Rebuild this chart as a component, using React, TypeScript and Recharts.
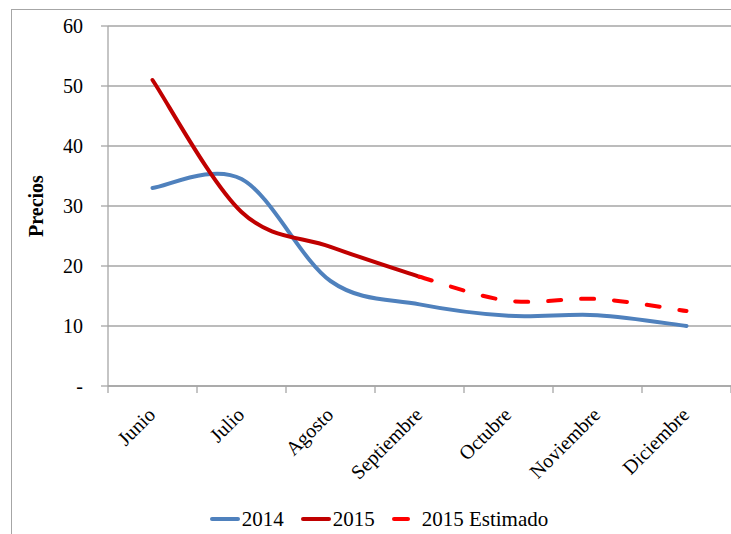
import { LineChart, Line, XAxis, YAxis, CartesianGrid, Legend } from "recharts";

const months = ["Junio", "Julio", "Agosto", "Septiembre", "Octubre", "Noviembre", "Diciembre"];
const precios2014 = [33, 34.5, 17.5, 13.6, 11.7, 11.8, 10];
const precios2015 = [51, 29, 23.2, 18.2, null, null, null];
const estimado2015 = [null, null, null, 18.2, 14.2, 14.5, 12.5];
const yTicks = [0, 10, 20, 30, 40, 50, 60];

const rows = months.map((m, i) => ({
  i,
  month: m,
  a: precios2014[i],
  b: precios2015[i],
  c: estimado2015[i],
}));

// boundaries get a tick mark, centres get the month label
const xTicks: number[] = [];
for (let k = 0; k <= months.length; k++) {
  xTicks.push(k - 0.5);
  if (k < months.length) xTicks.push(k);
}

const FONT = "'Liberation Serif', 'Times New Roman', serif";
const GRID = "#a6a6a6";

// excel-ish smoothed line (catmull-rom through every point)
function smooth(context: any) {
  let pts: [number, number][] = [];
  return {
    areaStart() {},
    areaEnd() {},
    lineStart() {
      pts = [];
    },
    point(x: number, y: number) {
      pts.push([+x, +y]);
    },
    lineEnd() {
      const n = pts.length;
      if (!n) return;
      context.moveTo(pts[0][0], pts[0][1]);
      for (let i = 0; i < n - 1; i++) {
        const p0 = pts[Math.max(i - 1, 0)];
        const p1 = pts[i];
        const p2 = pts[i + 1];
        const p3 = pts[Math.min(i + 2, n - 1)];
        context.bezierCurveTo(
          p1[0] + (p2[0] - p0[0]) / 6,
          p1[1] + (p2[1] - p0[1]) / 6,
          p2[0] - (p3[0] - p1[0]) / 6,
          p2[1] - (p3[1] - p1[1]) / 6,
          p2[0],
          p2[1]
        );
      }
    },
  };
}

function MonthTick(props: any) {
  const { x, y, payload } = props;
  const v = payload.value;
  if (!Number.isInteger(v)) {
    return <line x1={x} x2={x} y1={y} y2={y + 7} stroke={GRID} strokeWidth={1.3} />;
  }
  return (
    <g transform={`translate(${x + 4},${y + 30}) rotate(-45)`}>
      <text textAnchor="end" fill="#000" fontSize={20} fontFamily={FONT}>
        {months[v]}
      </text>
    </g>
  );
}

function YTitle(props: any) {
  const vb = props.viewBox || { y: 26, height: 360 };
  const cy = vb.y + vb.height / 2;
  return (
    <text
      x={36}
      y={cy}
      transform={`rotate(-90 36 ${cy})`}
      textAnchor="middle"
      dominantBaseline="central"
      fontWeight="bold"
      fontSize={20}
      fontFamily={FONT}
      fill="#000"
    >
      Precios
    </text>
  );
}

function LegendBox() {
  const item = (color: string, label: string, dashed?: boolean) => (
    <div style={{ display: "flex", alignItems: "center", marginRight: dashed ? 0 : 17 }}>
      {dashed ? (
        <span style={{ width: 18, height: 4, background: color, borderRadius: 2, margin: "0 12px 0 0" }} />
      ) : (
        <span style={{ width: 30, height: 4, background: color, borderRadius: 2, marginRight: 2 }} />
      )}
      <span>{label}</span>
    </div>
  );
  return (
    <div
      style={{
        height: 30,
        display: "flex",
        justifyContent: "center",
        alignItems: "center",
        fontFamily: FONT,
        fontSize: 21,
        color: "#000",
        paddingLeft: 27,
      }}
    >
      {item("#4f81bd", "2014")}
      {item("#c00000", "2015")}
      {item("#ff0000", "2015 Estimado", true)}
    </div>
  );
}

export default function App() {
  return (
    <div
      style={{
        position: "absolute",
        left: 0,
        top: 0,
        width: 731,
        height: 534,
        overflow: "hidden",
        background: "#fff",
        fontFamily: FONT,
      }}
    >
      <div
        style={{
          position: "absolute",
          left: 11,
          top: 9,
          width: 760,
          height: 560,
          border: "1px solid #a6a6a6",
        }}
      />
      <LineChart
        width={731}
        height={534}
        data={rows}
        margin={{ top: 26, right: 0, bottom: 0, left: 0 }}
        style={{ position: "absolute", left: 0, top: 0 }}
      >
        <CartesianGrid vertical={false} stroke={GRID} strokeWidth={1.3} />
        <XAxis
          dataKey="i"
          type="number"
          domain={[-0.5, 6.5]}
          ticks={xTicks}
          interval={0}
          height={118}
          tickSize={0}
          tickMargin={0}
          tickLine={false}
          axisLine={{ stroke: GRID, strokeWidth: 1.3 }}
          tick={<MonthTick />}
        />
        <YAxis
          width={108}
          domain={[0, 60]}
          ticks={yTicks}
          interval={0}
          tickSize={7}
          tickMargin={18}
          tickLine={{ stroke: GRID, strokeWidth: 1.3 }}
          axisLine={{ stroke: GRID, strokeWidth: 1.3 }}
          tick={{ fill: "#000", fontSize: 20, fontFamily: FONT }}
          tickFormatter={(v: number) => (v === 0 ? "-" : String(v))}
          label={<YTitle />}
        />
        <Legend verticalAlign="bottom" content={<LegendBox />} />
        <Line
          dataKey="a"
          name="2014"
          type={smooth as any}
          stroke="#4f81bd"
          strokeWidth={4}
          strokeLinecap="round"
          dot={false}
          activeDot={false}
          isAnimationActive={false}
        />
        <Line
          dataKey="b"
          name="2015"
          type={smooth as any}
          stroke="#c00000"
          strokeWidth={4}
          strokeLinecap="round"
          dot={false}
          activeDot={false}
          isAnimationActive={false}
        />
        <Line
          dataKey="c"
          name="2015 Estimado"
          type={smooth as any}
          stroke="#ff0000"
          strokeWidth={4}
          strokeDasharray="13 20"
          strokeLinecap="round"
          dot={false}
          activeDot={false}
          isAnimationActive={false}
        />
      </LineChart>
    </div>
  );
}
